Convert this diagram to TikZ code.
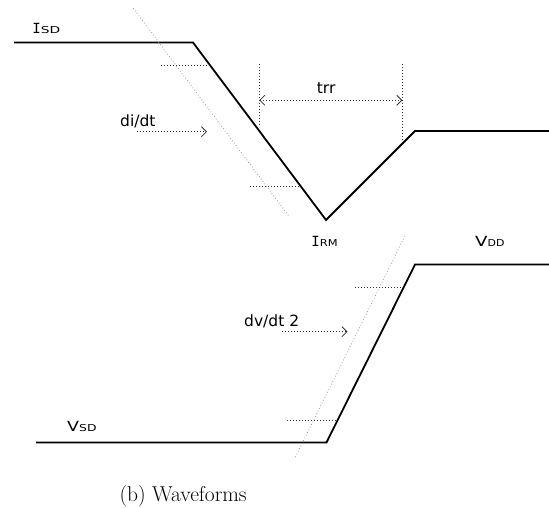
\documentclass[tikz,border=0pt]{standalone}
\usepackage{fontspec}
\usepackage{graphicx}
\newfontfamily\lblfont{DejaVu Sans}
\newfontfamily\lblmono{DejaVu Sans Mono}
\usetikzlibrary{arrows.meta}
\newcommand\biglbl[3]{{\fontsize{14}{14}\selectfont #1}\scalebox{#3}[1]{\fontsize{9.5}{9.5}\selectfont #2}}
\begin{document}
\begin{tikzpicture}[x=1pt,y=-1pt,
  wave/.style={line width=1.8pt, black, line join=miter},
  guide/.style={line width=0.8pt, black!80, dash pattern=on 0.8pt off 2.2pt},
  slope/.style={line width=0.8pt, black!40, dash pattern=on 0.8pt off 2.2pt},
  dimarrow/.style={guide, -{Straight Barb[length=5pt,width=10pt,line width=0.8pt]}},
  dimboth/.style={guide, {Straight Barb[length=5pt,width=10pt,line width=0.8pt]}-{Straight Barb[length=5pt,width=10pt,line width=0.8pt]}},
  lbl/.style={inner sep=0, anchor=base west, font=\lblfont\fontsize{15.5}{15.5}\selectfont},
  sig/.style={inner sep=0, anchor=base west, font=\lblfont},
  captxt/.style={inner sep=0, anchor=base west, font=\fontsize{21.5}{21.5}\selectfont}]
\useasboundingbox (0,0) rectangle (549,508);
% top waveform (current)
\coordinate (a1) at (14,42.5);
\coordinate (a2) at (193,42.5);
\coordinate (a3) at (326,220);
\coordinate (a4) at (415,131);
\coordinate (a5) at (549,131);
\draw[wave] (a1) -- (a2) -- (a3) -- (a4) -- (a5);
% bottom waveform (voltage)
\coordinate (b1) at (36,442.5);
\coordinate (b2) at (326.5,442.5);
\coordinate (b3) at (415,264.5);
\coordinate (b4) at (549,264.5);
\draw[wave] (b1) -- (b2) -- (b3) -- (b4);
% di/dt slope guide
\coordinate (s1) at (133.3,8.3);
\coordinate (s2) at (289.3,216.7);
\draw[slope] (s1) -- (s2);
\coordinate (h1a) at (161,65);
\coordinate (h1b) at (209,65);
\draw[guide] (h1a) -- (h1b);
\coordinate (h2a) at (250,186.5);
\coordinate (h2b) at (300,186.5);
\draw[guide] (h2a) -- (h2b);
\coordinate (da) at (137.3,131.7);
\coordinate (db) at (207,131.7);
\draw[dimarrow] (da) -- (db);
% trr
\coordinate (v1a) at (259.3,64);
\coordinate (v1b) at (259.3,127);
\coordinate (v2a) at (402.3,64);
\coordinate (v2b) at (402.3,142);
\draw[guide] (v1a) -- (v1b);
\draw[guide] (v2a) -- (v2b);
\coordinate (ta) at (259.3,100.3);
\coordinate (tb) at (402.3,100.3);
\draw[dimboth] (ta) -- (tb);
% dv/dt slope guide
\coordinate (u1) at (405,236);
\coordinate (u2) at (295,457.7);
\draw[slope] (u1) -- (u2);
\coordinate (g1a) at (355,287.3);
\coordinate (g1b) at (402,287.3);
\draw[guide] (g1a) -- (g1b);
\coordinate (g2a) at (286.7,420.7);
\coordinate (g2b) at (336,420.7);
\draw[guide] (g2a) -- (g2b);
\coordinate (ea) at (282,331.7);
\coordinate (eb) at (347.5,331.7);
\draw[dimarrow] (ea) -- (eb);
% labels
\node[sig] (isd) at (32.2,33.3) {{\lblmono\fontsize{14}{14}\selectfont I}\biglbl{}{SD}{1.45}};
\node[sig] (irm) at (311.2,246) {{\lblmono\fontsize{14}{14}\selectfont I}\biglbl{}{RM}{1.2}};
\node[sig] (vdd) at (475,246.7) {\scalebox{1.3}[1]{\fontsize{14}{14}\selectfont V}\biglbl{}{DD}{1.15}};
\node[sig] (vsd) at (67,431.7) {\scalebox{1.25}[1]{\fontsize{14}{14}\selectfont V}\biglbl{}{SD}{1.3}};
\node[lbl] (didt) at (120,126.7) {di/dt};
\node[lbl] (trr) at (316.7,93.3) {trr};
\node[lbl] (dvdt) at (244,326.7) {dv/dt 2};
\node[captxt] (caption) at (119.3,501) {(b) Waveforms};
\end{tikzpicture}
\end{document}
